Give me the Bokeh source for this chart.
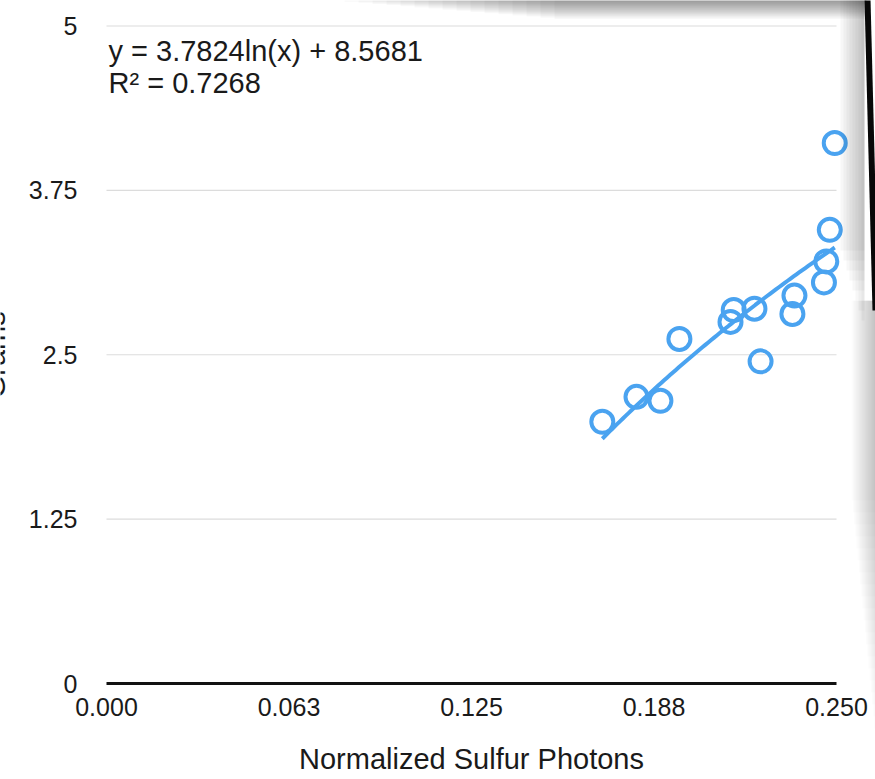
import numpy as np
from bokeh.plotting import figure
from bokeh.models import Range1d, BoxAnnotation, PolyAnnotation
from bokeh.core.properties import value
from bokeh.embed import file_html
from bokeh.resources import INLINE

# ---- data ----
photons = [0.1698, 0.1815, 0.1897, 0.1962, 0.2137, 0.2148, 0.2219,
           0.2240, 0.2356, 0.2349, 0.2457, 0.2465, 0.2477, 0.2494]
grams = [1.99, 2.18, 2.15, 2.62, 2.75, 2.84, 2.85,
         2.45, 2.95, 2.81, 3.05, 3.21, 3.45, 4.11]

x_ticks = [0.0, 0.0625, 0.125, 0.1875, 0.25]
x_tick_labels = ["0.000", "0.063", "0.125", "0.188", "0.250"]
y_ticks = [0, 1.25, 2.5, 3.75, 5]
y_tick_labels = ["0", "1.25", "2.5", "3.75", "5"]

fit_a = 3.7824
fit_b = 8.5681
r_squared = 0.7268

x_title = "Normalized Sulfur Photons"
y_title = "Grams"

# ---- styling / layout (pixels) ----
FONT = value("Liberation Sans")
BLUE = "#4AA3F0"
TXT = "#1a1a1a"

W, H = 875, 779
AX_L, AX_R = 106, 836        # px of first / last x tick
AX_B, AX_T = 683, 25.5       # px of first / last y tick
sx_per = (AX_R - AX_L) / (x_ticks[-1] - x_ticks[0])
sy_per = (AX_B - AX_T) / (y_ticks[-1] - y_ticks[0])
x_rng = Range1d(x_ticks[0] - AX_L / sx_per, x_ticks[0] + (W - AX_L) / sx_per)
y_rng = Range1d(y_ticks[0] - (H - AX_B) / sy_per, y_ticks[0] + AX_B / sy_per)

p = figure(width=W, height=H, x_range=x_rng, y_range=y_rng,
           output_backend="svg", toolbar_location=None,
           x_axis_location=None, y_axis_location=None,
           min_border=0)
p.outline_line_color = None
p.background_fill_color = "white"
p.border_fill_color = "white"
p.grid.visible = False

x0, x1 = x_ticks[0], x_ticks[-1]
y0 = y_ticks[0]

# horizontal grid lines limited to the axis extent
grid_y = [t for t in y_ticks if t > y0]
p.segment(x0=[x0] * len(grid_y), x1=[x1] * len(grid_y),
          y0=grid_y, y1=grid_y, line_color="#dcdcdc", line_width=1.2)

# x axis line
p.segment(x0=[x0], x1=[x1], y0=[y0], y1=[y0], line_color="#111111",
          line_width=3)

# tick labels
p.text(x=x_ticks, y=[y0] * len(x_ticks), text=x_tick_labels,
       text_align="center", text_baseline="top", y_offset=14,
       text_font=FONT, text_font_size="25px", text_color=TXT)
p.text(x=[x0] * len(y_ticks), y=y_ticks, text=y_tick_labels,
       text_align="right", text_baseline="middle", x_offset=-29,
       text_font=FONT, text_font_size="25px", text_color=TXT)

# axis titles
p.text(x=[(x0 + x1) / 2], y=[y0], text=[x_title], text_align="center",
       text_baseline="alphabetic", y_offset=75,
       text_font=FONT, text_font_size="29px", text_color=TXT)
p.text(x=[x0], y=[(y_ticks[0] + y_ticks[-1]) / 2], text=[y_title],
       angle=np.pi / 2, text_align="center", text_baseline="alphabetic",
       x_offset=-112, text_font=FONT, text_font_size="29px",
       text_color=TXT)

# trend line
tx = np.linspace(min(photons), max(photons), 80)
ty = fit_a * np.log(tx) + fit_b
p.line(tx, ty, line_color=BLUE, line_width=4)

# points
p.scatter(photons, grams, marker="circle", size=22, fill_color=None,
          line_color=BLUE, line_width=4)

# equation text
eq_lines = [f"y = {fit_a}ln(x) + {fit_b}", f"R² = {r_squared}"]
p.text(x=[x0, x0], y=[y_ticks[-1], y_ticks[-1]], text=eq_lines,
       text_align="left", text_baseline="alphabetic", x_offset=2,
       y_offset=[25, 57], text_font=FONT,
       text_font_size="29px", text_color=TXT)

# ---- screenshot decoration: top shadow, right shadow and dark edge ----
def sy(cy):
    return H - cy

def shade(left, right, top, bottom, alpha):
    p.add_layout(BoxAnnotation(left=left, right=right,
                               top=sy(top), bottom=sy(bottom),
                               left_units="screen", right_units="screen",
                               top_units="screen", bottom_units="screen",
                               fill_color="black", fill_alpha=alpha,
                               line_color=None))

for i in range(1, 17):
    shade(330 + 14 * i, 866, -5, 1.15 * i, 0.026)
for i in range(1, 21):
    shade(W - 1.2 * i, W + 5, 300, 740 - 12 * i, 0.012)
for i in range(1, 9):
    shade(864 - 3 * i, 864, -5, 330 - 10 * i, 0.03)
p.add_layout(PolyAnnotation(xs=[864, 870, 878, 872],
                            ys=[sy(-2), sy(-2), sy(310), sy(310)],
                            xs_units="screen", ys_units="screen",
                            fill_color="#080808", fill_alpha=1.0,
                            line_color=None))

open("out.html", "w").write(file_html(p, INLINE))
